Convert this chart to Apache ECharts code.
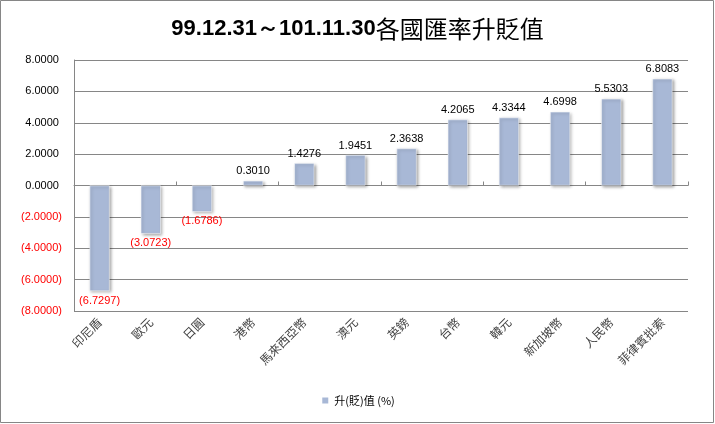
<!DOCTYPE html>
<html><head><meta charset="utf-8">
<script src="https://cdn.jsdelivr.net/npm/echarts@6/dist/echarts.min.js"></script>
<style>html,body{margin:0;padding:0;background:#fff}#c{width:715px;height:424px}</style>
</head><body><div id="c"></div>
<script>
const titleDates = '99.12.31～101.11.30';
const titleWords = '各國匯率升貶值';
const seriesName = '升(貶)值 (%)';
const categories = ['印尼盾','歐元','日圓','港幣','馬來西亞幣','澳元','英鎊','台幣','韓元','新加坡幣','人民幣','菲律賓批索'];
const values = [-6.7297,-3.0723,-1.6786,0.3010,1.4276,1.9451,2.3638,4.2065,4.3344,4.6998,5.5303,6.8083];
const yMin = -8, yMax = 8, yStep = 2;

function fmt(v){
  const s = Math.abs(v).toFixed(4);
  return v < 0 ? '(' + s + ')' : s + ' ';
}
const numFont = '"Liberation Sans", Arial, sans-serif';
const cjkFont = '"Noto Sans CJK TC", "Noto Sans CJK SC", sans-serif';

const chart = echarts.init(document.getElementById('c'));
chart.setOption({
  animation: false,
  backgroundColor: '#fff',
  title: {
    text: '{a|' + titleDates + '}{b|' + titleWords + '}', left: 'center', top: 10,
    textStyle: {
      rich: {
        a: { fontSize: 22, fontWeight: 'bold', color: '#000', fontFamily: numFont, lineHeight: 28 },
        b: { fontSize: 24, fontWeight: 'normal', color: '#000', fontFamily: cjkFont, lineHeight: 28 }
      }
    }
  },
  graphic: [{ type: 'rect', shape: { x: 0.5, y: 0.5, width: 713, height: 422 }, style: { fill: 'none', stroke: '#868686', lineWidth: 1 }, silent: true }],
  legend: {
    bottom: 13, left: 'center', itemWidth: 8, itemHeight: 8, icon: 'rect',
    textStyle: { fontSize: 11, color: '#000', fontFamily: cjkFont },
    data: [seriesName]
  },
  grid: { left: 74, right: 27, top: 60, bottom: 113 },
  xAxis: [{
    type: 'category', data: categories, position: 'bottom',
    axisLine: { show: false, onZero: false }, axisTick: { show: false },
    axisLabel: { rotate: 45, fontSize: 12, color: '#404040', fontFamily: cjkFont, margin: 9, interval: 0 }
  }, {
    type: 'category', data: categories, position: 'bottom',
    axisLine: { show: true, onZero: true, lineStyle: { color: '#868686', width: 1 } },
    axisTick: { show: true, inside: true, length: 4, lineStyle: { color: '#868686' } },
    axisLabel: { show: false }
  }],
  yAxis: {
    type: 'value', min: yMin, max: yMax, interval: yStep,
    axisLine: { show: true, lineStyle: { color: '#868686' } },
    axisTick: { show: false },
    splitLine: { lineStyle: { color: '#868686', width: 1 } },
    axisLabel: {
      margin: 12, fontSize: 11, fontFamily: numFont,
      formatter: fmt,
      color: function (v) { return Number(v) < 0 ? '#FF0000' : '#000'; }
    }
  },
  series: [{
    name: seriesName, type: 'bar', xAxisIndex: 0, barWidth: 20,
    itemStyle: { color: '#A8B8D6', borderColor: '#fff', borderWidth: 0.5, shadowColor: 'rgba(0,0,0,0.35)', shadowBlur: 3, shadowOffsetX: 1.5, shadowOffsetY: 1.5 },
    data: values.map(v => ({
      value: v,
      label: { show: true, position: v < 0 ? 'bottom' : 'top', distance: 4, formatter: () => fmt(v).trim(), color: v < 0 ? '#FF0000' : '#000', fontSize: 11, fontFamily: numFont }
    }))
  }]
});
</script></body></html>
